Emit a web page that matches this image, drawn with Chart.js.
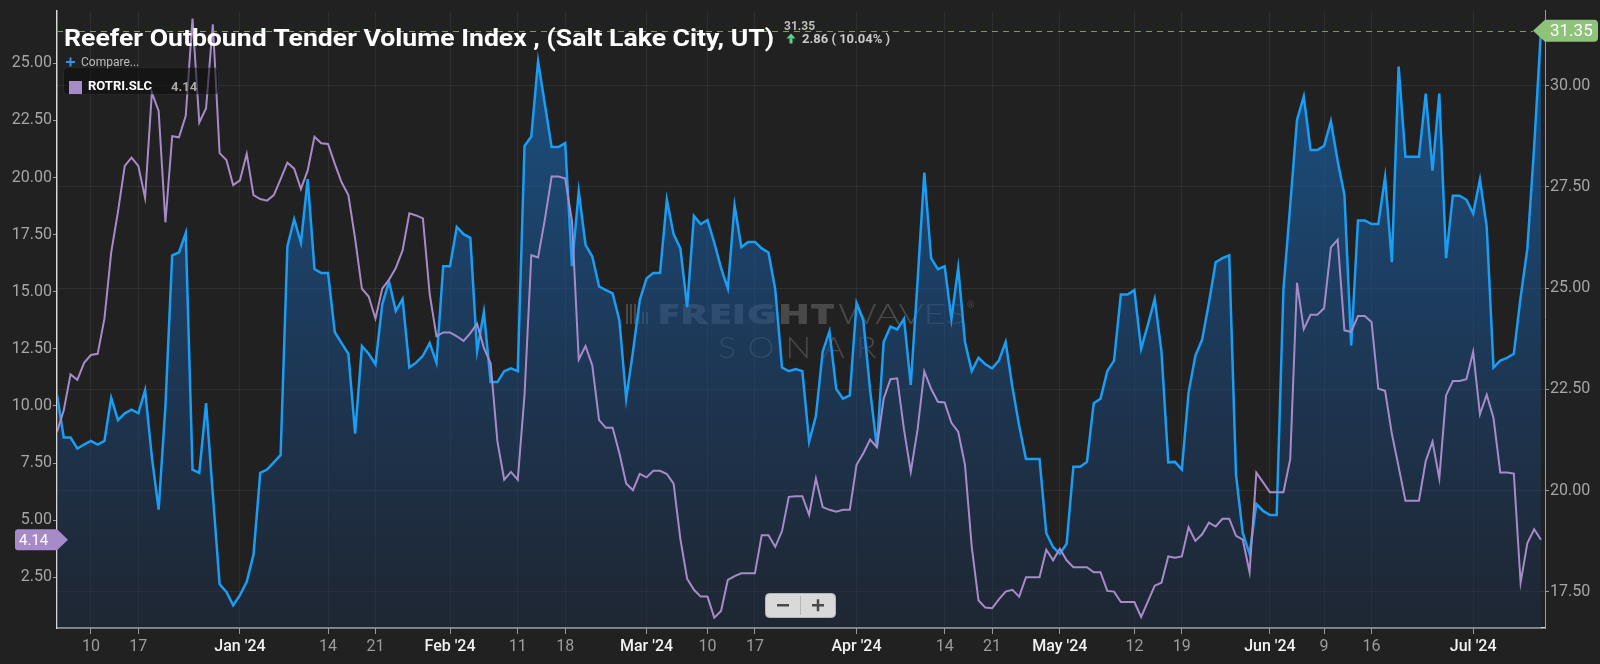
<!DOCTYPE html>
<html>
<head>
  <title>Reefer Outbound Tender Volume Index</title>
  <style>
    html, body {
      margin: 0;
      padding: 0;
      background-color: #212121;
    }

    #wrap {
      width: 1600px;
      height: 664px;
    }
  </style>
</head>
<body>
  <div id="wrap"><canvas id="chart" width="1600" height="664"></canvas></div>

  <script src="https://cdn.jsdelivr.net/npm/chart.js@4.4.1/dist/chart.umd.min.js"></script>

  <script>
    // Day numbers are counted from Jan 1 2024, the first reading is Dec 5 2023
    var firstDay = -27;

    // ROTVI.SLC, right axis (blue area)
    var tenderVolume = [
      22.37, 21.31, 21.31, 21.04, 21.14, 21.23, 21.14, 21.23, 22.29, 21.74,
      21.91, 22.00, 21.91, 22.48, 20.83, 19.53, 22.08, 25.81, 25.88, 26.36,
      20.52, 20.44, 22.16, 19.90, 17.69, 17.50, 17.17, 17.42,
      17.75, 18.42, 20.44, 20.52, 20.70, 20.88, 26.03, 26.70, 26.12, 27.69,
      25.47, 25.37, 25.37, 23.91, 23.64, 23.38, 21.41, 23.57, 23.38, 23.12,
      24.60, 25.16, 24.44, 24.73, 23.04, 23.16, 23.33, 23.64,
      23.16, 25.54, 25.54, 26.51, 26.33, 26.24, 23.45, 24.41, 22.68, 22.68,
      22.95, 23.02, 22.95, 28.51, 28.74, 30.60, 29.54, 28.48, 28.48, 28.58,
      25.54, 27.39, 26.07, 25.78, 25.04, 24.95, 24.87,
      24.20, 22.27, 23.43, 24.70, 25.24, 25.37, 25.37, 27.18, 26.33, 25.98,
      24.53, 26.78, 26.58, 26.68, 26.12, 25.50, 24.99, 27.04, 26.01, 26.14,
      26.14, 25.98, 25.88, 24.97, 23.04, 22.95, 23.00,
      22.95, 21.21, 21.84, 23.43, 23.93, 22.51, 22.27, 22.35, 24.63, 24.20,
      22.48, 21.07, 23.67, 24.05, 23.98, 24.24, 22.61, 25.16, 27.85, 25.74,
      25.47, 25.54, 24.24, 25.50, 23.67, 22.95, 23.28, 23.12,
      23.02, 23.21, 23.67, 22.56, 21.60, 20.78, 20.78, 20.78, 18.95, 18.61,
      18.44, 18.69, 20.59, 20.59, 20.71, 22.16, 22.27, 22.95, 23.21, 24.84,
      24.84, 24.95, 23.50, 24.10, 24.73, 23.43, 20.70,
      20.71, 20.52, 22.42, 23.33, 23.73, 24.63, 25.64, 25.74, 25.81, 20.39,
      18.95, 18.44, 19.67, 19.50, 19.40, 19.40, 24.97, 27.04, 29.15, 29.73,
      28.41, 28.41, 28.51, 29.12, 28.14, 27.30, 23.58,
      26.67, 26.67, 26.58, 26.58, 27.74, 25.64, 30.47, 28.24, 28.24, 28.24,
      29.80, 27.90, 29.80, 25.74, 27.28, 27.28, 27.18, 26.84, 27.68, 26.51,
      23.04, 23.21, 23.28, 23.38, 24.77, 25.98, 28.49, 31.35
    ];

    // ROTRI.SLC, left axis (purple line)
    var rejectionRate = [
      8.87, 9.81, 11.38, 11.14, 11.89, 12.23, 12.28, 13.82, 16.72, 18.51,
      20.51, 20.87, 20.51, 19.11, 23.72, 22.92, 18.04, 21.81, 21.76, 22.70,
      26.96, 22.41, 23.04, 26.71, 21.07, 20.77, 19.67, 19.88,
      21.04, 19.23, 19.06, 18.99, 19.23, 19.93, 20.65, 20.39, 19.50, 20.31,
      21.79, 21.50, 21.47, 20.60, 19.79, 19.23, 17.32, 15.13, 14.79, 13.82,
      15.13, 15.53, 16.04, 16.81, 18.43, 18.34, 18.21, 14.90,
      13.05, 13.22, 13.22, 13.05, 12.85, 13.19, 13.60, 12.54, 11.86, 8.44,
      6.77, 7.11, 6.77, 10.49, 16.60, 16.50, 18.17, 20.05, 20.05, 19.96,
      18.09, 12.03, 12.62, 11.77, 9.38, 9.04, 9.04,
      7.93, 6.60, 6.31, 7.02, 6.87, 7.16, 7.16, 7.02, 6.60, 4.17,
      2.43, 1.95, 1.65, 1.65, 0.73, 1.02, 2.38, 2.55, 2.67, 2.67,
      2.67, 4.34, 4.34, 3.83, 4.52, 6.02, 6.05,
      6.05, 5.23, 6.82, 5.57, 5.45, 5.37, 5.45, 5.45, 7.42, 7.93,
      8.53, 8.19, 10.32, 11.17, 11.21, 8.96, 7.11, 8.96, 11.51, 10.75,
      10.18, 10.15, 9.26, 8.87, 7.42, 3.83, 1.48, 1.17,
      1.14, 1.53, 1.87, 1.95, 1.65, 2.50, 2.50, 2.50, 3.70, 3.24,
      3.75, 3.24, 2.94, 2.94, 2.94, 2.72, 2.72, 1.90, 1.87, 1.41,
      1.41, 1.41, 0.76, 1.44, 2.13, 2.26, 3.41,
      3.35, 3.41, 4.69, 4.09, 4.38, 4.89, 4.72, 5.06, 5.06, 4.31,
      4.14, 2.72, 7.08, 6.65, 6.22, 6.22, 6.22, 7.67, 15.39, 13.36,
      13.99, 13.99, 14.28, 16.94, 17.28, 13.31, 13.24,
      13.94, 13.94, 13.68, 10.75, 10.66, 8.78, 7.33, 5.85, 5.85, 5.85,
      7.59, 8.44, 6.82, 10.46, 11.09, 11.09, 11.17, 12.37, 9.64, 10.49,
      9.47, 7.08, 7.08, 7.04, 2.26, 4.00, 4.60, 4.14
    ];

    var tickDays = [-22, -15, 0, 13, 20, 31, 41, 48, 60, 69, 76, 91, 104, 111, 121, 132, 139, 152, 160, 167, 182];
    var tickLabels = ['10', '17', "Jan '24", '14', '21', "Feb '24", '11', '18', "Mar '24", '10', '17',
                      "Apr '24", '14', '21', "May '24", '12', '19', "Jun '24", '9', '16', "Jul '24"];
    var leftTicks = [2.5, 5, 7.5, 10, 12.5, 15, 17.5, 20, 22.5, 25];
    var rightTicks = [17.5, 20, 22.5, 25, 27.5, 30];

    var titleText = 'Reefer Outbound Tender Volume Index , (Salt Lake City, UT)';
    var changeText = '2.86 ( 10.04% )';
    var compareName = 'ROTRI.SLC';

    var BLUE = '#1a9df2';
    var PURPLE = '#a78bc9';
    var GREEN_TAG = '#8fc27a';
    var FONT = 'Roboto, "Noto Sans", sans-serif';

    function toPoints(values) {
      return values.map(function (v, i) {
        return { x: firstDay + i, y: v };
      });
    }

    function isMonthLabel(index) {
      return tickLabels[index] && tickLabels[index].indexOf("'") !== -1;
    }

    // Draw text stretched or squeezed to a given width
    function fitText(ctx, text, x, y, width) {
      var w = ctx.measureText(text).width;
      ctx.save();
      ctx.translate(x, y);
      ctx.scale(width / w, 1);
      ctx.fillText(text, 0, 0);
      ctx.restore();
    }

    function drawWatermark(ctx) {
      ctx.save();
      ctx.fillStyle = 'rgba(160,160,160,0.32)';
      // little bar logo
      var bars = [20, 20, 20, 16, 12, 12];
      for (var i = 0; i < bars.length; i++) {
        ctx.fillRect(626 + i * 4, 324 - bars[i], 2, bars[i]);
      }
      ctx.textBaseline = 'alphabetic';
      ctx.font = '900 28px "Open Sans", Roboto, sans-serif';
      fitText(ctx, 'FREIGHT', 657, 324, 178);
      ctx.font = '300 28px Lato, "Open Sans", sans-serif';
      fitText(ctx, 'WAVES', 838, 324, 128);
      ctx.font = '9px Lato, "Open Sans", sans-serif';
      ctx.fillText('\u00AE', 967, 308);
      ctx.font = '300 30px Lato, "Open Sans", sans-serif';
      ctx.letterSpacing = '10px';
      fitText(ctx, 'SONAR', 718, 358, 170);
      ctx.restore();
    }

    function drawUpArrow(ctx, cx, cy, color) {
      ctx.save();
      ctx.fillStyle = color;
      ctx.beginPath();
      ctx.moveTo(cx, cy - 5);
      ctx.lineTo(cx + 4.5, cy);
      ctx.lineTo(cx - 4.5, cy);
      ctx.closePath();
      ctx.fill();
      ctx.fillRect(cx - 1.5, cy, 3, 5);
      ctx.restore();
    }

    var overlayPlugin = {
      id: 'overlay',
      beforeDraw: function (chart) {
        var ctx = chart.ctx;
        ctx.save();
        ctx.fillStyle = '#212121';
        ctx.fillRect(0, 0, chart.width, chart.height);
        ctx.restore();
      },
      beforeDatasetsDraw: function (chart) {
        drawWatermark(chart.ctx);
      },
      afterDraw: function (chart) {
        var ctx = chart.ctx;
        var area = chart.chartArea;
        var lastVolume = tenderVolume[tenderVolume.length - 1];
        var lastRate = rejectionRate[rejectionRate.length - 1];
        var yVol = chart.scales.yRight.getPixelForValue(lastVolume);
        var yRate = chart.scales.yLeft.getPixelForValue(lastRate);

        ctx.save();

        // dashed guide at the last value
        ctx.strokeStyle = '#779f64';
        ctx.lineWidth = 1;
        ctx.setLineDash([6, 5]);
        ctx.beginPath();
        ctx.moveTo(area.left, Math.round(yVol) + 0.5);
        ctx.lineTo(area.right - 12, Math.round(yVol) + 0.5);
        ctx.stroke();
        ctx.setLineDash([]);

        // last value tag on the right
        ctx.fillStyle = GREEN_TAG;
        ctx.beginPath();
        ctx.moveTo(area.right - 12, yVol);
        ctx.lineTo(area.right, yVol - 11);
        ctx.lineTo(1594, yVol - 11);
        ctx.quadraticCurveTo(1598, yVol - 11, 1598, yVol - 7);
        ctx.lineTo(1598, yVol + 7);
        ctx.quadraticCurveTo(1598, yVol + 11, 1594, yVol + 11);
        ctx.lineTo(area.right, yVol + 11);
        ctx.closePath();
        ctx.fill();
        ctx.fillStyle = '#ffffff';
        ctx.font = '17px ' + FONT;
        ctx.textBaseline = 'middle';
        ctx.textAlign = 'left';
        ctx.fillText(lastVolume.toFixed(2), 1550, yVol + 1);

        // last value tag on the left
        ctx.fillStyle = PURPLE;
        ctx.beginPath();
        ctx.moveTo(area.left + 11, yRate);
        ctx.lineTo(area.left, yRate - 10.5);
        ctx.lineTo(18, yRate - 10.5);
        ctx.quadraticCurveTo(15, yRate - 10.5, 15, yRate - 7.5);
        ctx.lineTo(15, yRate + 7.5);
        ctx.quadraticCurveTo(15, yRate + 10.5, 18, yRate + 10.5);
        ctx.lineTo(area.left, yRate + 10.5);
        ctx.closePath();
        ctx.fill();
        ctx.fillStyle = '#ffffff';
        ctx.font = '15px ' + FONT;
        ctx.fillText(lastRate.toFixed(2), 19, yRate + 1);

        // title
        ctx.textBaseline = 'alphabetic';
        ctx.fillStyle = '#ffffff';
        ctx.font = 'bold 24px ' + FONT;
        fitText(ctx, titleText, 64, 46, 710);

        // last value and change
        ctx.fillStyle = '#bdbdbd';
        ctx.font = 'bold 12px ' + FONT;
        ctx.fillText(lastVolume.toFixed(2), 784, 30);
        drawUpArrow(ctx, 791, 38.5, '#5ad48f');
        ctx.fillStyle = '#c8c8c8';
        ctx.font = 'bold 13px ' + FONT;
        ctx.fillText(changeText, 802, 43);

        // compare link
        ctx.fillStyle = '#3d8fe0';
        ctx.fillRect(66, 61, 9, 2);
        ctx.fillRect(69.5, 57.5, 2, 9);
        ctx.fillStyle = '#bdbdbd';
        ctx.font = '12px ' + FONT;
        ctx.fillText('Compare...', 81, 66);

        // compare legend box
        ctx.fillStyle = 'rgba(12,12,12,0.55)';
        ctx.strokeStyle = 'rgba(255,255,255,0.06)';
        ctx.beginPath();
        ctx.roundRect(63.5, 67.5, 155, 27, 4);
        ctx.fill();
        ctx.stroke();
        ctx.fillStyle = PURPLE;
        ctx.fillRect(69, 81, 13, 13);
        ctx.fillStyle = '#ffffff';
        ctx.font = 'bold 13px ' + FONT;
        ctx.fillText(compareName, 88, 90);
        ctx.fillStyle = '#a9a9a9';
        ctx.fillText(lastRate.toFixed(2), 171, 91);

        // zoom buttons
        ctx.fillStyle = '#d9d9d9';
        ctx.strokeStyle = '#b5b5b5';
        ctx.beginPath();
        ctx.roundRect(765.5, 593.5, 70, 24, 4);
        ctx.fill();
        ctx.stroke();
        ctx.beginPath();
        ctx.moveTo(800.5, 596);
        ctx.lineTo(800.5, 615);
        ctx.stroke();
        ctx.fillStyle = '#4a4a4a';
        ctx.fillRect(777, 604, 12, 2.5);
        ctx.fillRect(812, 604, 12, 2.5);
        ctx.fillRect(816.75, 599.25, 2.5, 12);

        ctx.restore();
      }
    };

    var chart = new Chart(document.getElementById('chart'), {
      type: 'line',
      data: {
        datasets: [
          {
            label: compareName,
            data: toPoints(rejectionRate),
            yAxisID: 'yLeft',
            borderColor: PURPLE,
            borderWidth: 2,
            pointRadius: 0,
            fill: false,
            tension: 0,
            order: 1
          },
          {
            label: 'ROTVI.SLC',
            data: toPoints(tenderVolume),
            yAxisID: 'yRight',
            borderColor: BLUE,
            borderWidth: 2.5,
            pointRadius: 0,
            tension: 0,
            fill: 'start',
            order: 2,
            backgroundColor: function (context) {
              var area = context.chart.chartArea;
              if (!area) {
                return 'rgba(22,110,190,0.5)';
              }
              var g = context.chart.ctx.createLinearGradient(0, area.top, 0, area.bottom);
              g.addColorStop(0, 'rgba(22,118,205,0.60)');
              g.addColorStop(0.5, 'rgba(25,80,140,0.55)');
              g.addColorStop(1, 'rgba(28,45,72,0.45)');
              return g;
            }
          }
        ]
      },
      options: {
        responsive: false,
        devicePixelRatio: 1,
        animation: false,
        layout: { padding: { top: 2, left: 0, right: 0, bottom: 0 } },
        plugins: {
          legend: { display: false },
          tooltip: { enabled: false }
        },
        scales: {
          x: {
            type: 'linear',
            min: -27,
            max: 192.6,
            afterBuildTicks: function (axis) {
              axis.ticks = tickDays.map(function (d) { return { value: d }; });
            },
            afterFit: function (axis) {
              axis.height = 36;
            },
            grid: {
              color: 'rgba(255,255,255,0.06)',
              tickColor: '#9a9a9a',
              tickLength: 6
            },
            border: { color: '#d6d6d6', width: 1.5 },
            ticks: {
              autoSkip: false,
              maxRotation: 0,
              padding: 3,
              callback: function (value) {
                return tickLabels[tickDays.indexOf(value)];
              },
              color: function (ctx) {
                return isMonthLabel(ctx.index) ? '#f2f2f2' : '#9c9c9c';
              },
              font: function (ctx) {
                return { family: FONT, size: 16, weight: isMonthLabel(ctx.index) ? '500' : '400' };
              }
            }
          },
          yLeft: {
            type: 'linear',
            position: 'left',
            min: 0.276,
            max: 27.31,
            afterBuildTicks: function (axis) {
              axis.ticks = leftTicks.map(function (v) { return { value: v }; });
            },
            afterFit: function (axis) {
              axis.width = 57;
            },
            grid: {
              drawOnChartArea: false,
              tickColor: '#9a9a9a',
              tickLength: 4
            },
            border: { color: '#d6d6d6', width: 1.5 },
            ticks: {
              padding: 1,
              color: '#a6a6a6',
              font: { family: FONT, size: 16 },
              callback: function (value) {
                return value.toFixed(2);
              }
            }
          },
          yRight: {
            type: 'linear',
            position: 'right',
            min: 16.61,
            max: 31.85,
            afterBuildTicks: function (axis) {
              axis.ticks = rightTicks.map(function (v) { return { value: v }; });
            },
            afterFit: function (axis) {
              axis.width = 55;
            },
            grid: {
              color: 'rgba(255,255,255,0.07)',
              tickColor: '#9a9a9a',
              tickLength: 4
            },
            border: { color: '#9a9a9a', width: 1 },
            ticks: {
              padding: 1,
              color: '#a6a6a6',
              font: { family: FONT, size: 16 },
              callback: function (value) {
                return value.toFixed(2);
              }
            }
          }
        }
      },
      plugins: [overlayPlugin]
    });
  </script>
</body>
</html>
